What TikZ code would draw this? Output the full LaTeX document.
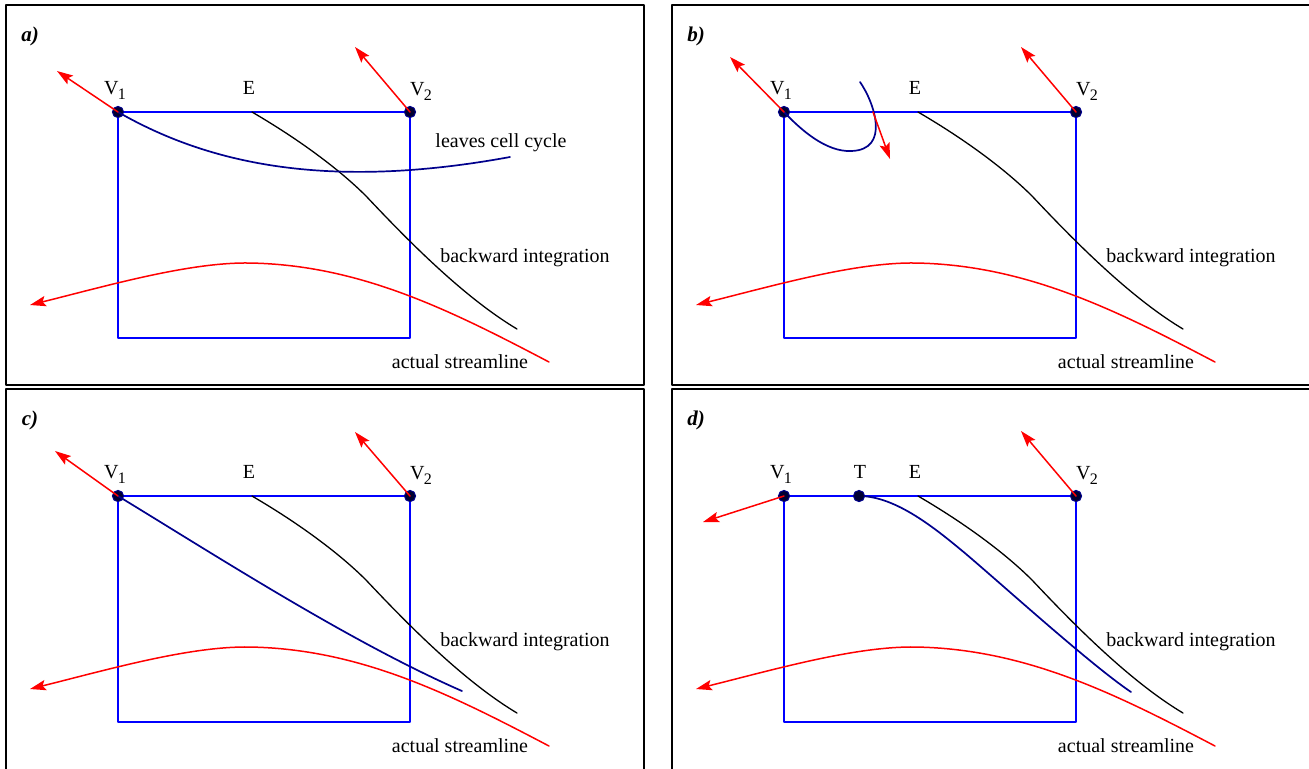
\documentclass[tikz,border=0pt]{standalone}
\usepackage{fontspec}
\setmainfont{Liberation Serif}
\usetikzlibrary{arrows.meta}

\definecolor{cellblue}{RGB}{0,0,255}
\definecolor{navyline}{RGB}{0,0,140}
\definecolor{dotfill}{RGB}{0,0,50}

\newcommand{\vsub}[1]{V\kern-0.3pt\raisebox{-0.55ex}{\fontsize{8}{8}\selectfont #1}}

\begin{document}
\begin{tikzpicture}[x=0.5pt,y=-0.5pt,font=\fontsize{10}{12}\selectfont, line cap=round, line join=round]

% ---------- styles ----------
\tikzset{
  panel/.style={draw, line width=1.1pt, line cap=butt},
  cell/.style={draw=cellblue, line width=1pt},
  vtx/.style={circle, draw=navyline, fill=dotfill, line width=0.5pt, inner sep=0pt, minimum size=5.6pt},
  vel/.style={draw=red, line width=0.75pt, -{Stealth[length=8pt,width=5.2pt,inset=1.5pt]}},
  stream/.style={draw=red, line width=0.75pt, -{Stealth[length=8pt,width=5.2pt,inset=1.5pt]}},
  backint/.style={draw=black, line width=0.65pt},
  trace/.style={draw=navyline, line width=0.85pt},
  plabel/.style={inner sep=0pt, font=\fontsize{10.5}{12}\selectfont\bfseries\itshape},
  tlbl/.style={inner sep=0pt},
}

% ---------- canvas ----------
\useasboundingbox (0,0) rectangle (1309,768);
\clip (0,0) rectangle (1309,768);

% ---------- panel frames ----------
\draw[panel] (6,5) rectangle (644,385);
\draw[panel] (672,5) rectangle (1320,385);
\draw[panel] (6,389) rectangle (644,780);
\draw[panel] (672,389) rectangle (1320,780);

% ---------- what every panel shares ----------
\foreach \p/\dx/\dy in {a/0/0, b/666/0, c/0/384, d/666/384}{
  \begin{scope}[shift={(\dx,\dy)}]
    \node[plabel] (\p-lab) at (30,36) {\p)};
    \draw[cell] (118,112) rectangle (410,338);
    \coordinate (\p-E) at (252,112);
    \coordinate (\p-Bm) at (366,196);
    \coordinate (\p-Bend) at (517,329);
    \coordinate (\p-Sstart) at (549,362);
    \coordinate (\p-Stop) at (250,263);
    \coordinate (\p-Stip) at (30,305);
    % backward integration from E
    \draw[backint] (\p-E) .. controls (300,140) and (340,170) .. (\p-Bm)
                          .. controls (400,232) and (460,295) .. (\p-Bend);
    % actual streamline
    \draw[stream] (\p-Sstart) .. controls (450,310) and (360,265) .. (\p-Stop)
                              .. controls (190,262) and (110,285) .. (\p-Stip);
    \node[tlbl] (\p-lE) at (249,88) {E};
    \node[tlbl] (\p-lV1) at (115,90) {\vsub{1}};
    \node[tlbl] (\p-lV2) at (421,91) {\vsub{2}};
    \node[tlbl] (\p-lbi) at (525,258) {backward integration};
    \node[tlbl] (\p-las) at (460,362) {actual streamline};
  \end{scope}
}

% ---------- a) ----------
\coordinate (a-out) at (510,157);
\node[vtx] (a-V1) at (118,112) {};
\node[vtx] (a-V2) at (410,112) {};
\draw[trace] (a-V1.center) .. controls (210,165) and (330,190) .. (a-out);
\node[tlbl] (a-leave) at (501,143) {leaves cell cycle};
\coordinate (a-V1tip) at (57,71);
\coordinate (a-V2tip) at (355,47);
\draw[vel] (a-V1.center) -- (a-V1tip);
\draw[vel] (a-V2.center) -- (a-V2tip);

% ---------- b) ----------
\begin{scope}[shift={(666,0)}]
  \coordinate (b-in) at (194,82);
  \coordinate (b-low) at (185,151);
  \node[vtx] (b-V1) at (118,112) {};
  \node[vtx] (b-V2) at (410,112) {};
  \draw[trace] (b-in) .. controls (208,102) and (225,150) .. (b-low)
                      .. controls (160,152) and (135,130) .. (b-V1.center);
  \coordinate (b-V1tip) at (64,57);
  \coordinate (b-V2tip) at (355,47);
  \coordinate (b-X) at (207,112);
  \coordinate (b-Xtip) at (224,159);
  \draw[vel] (b-V1.center) -- (b-V1tip);
  \draw[vel] (b-V2.center) -- (b-V2tip);
  \draw[vel] (b-X) -- (b-Xtip);
\end{scope}

% ---------- c) ----------
\begin{scope}[shift={(0,384)}]
  \coordinate (c-out) at (462,307);
  \node[vtx] (c-V1) at (118,112) {};
  \node[vtx] (c-V2) at (410,112) {};
  \draw[trace] (c-V1.center) .. controls (215,171) and (350,258) .. (c-out);
  \coordinate (c-V1tip) at (55,67);
  \coordinate (c-V2tip) at (355,48);
  \draw[vel] (c-V1.center) -- (c-V1tip);
  \draw[vel] (c-V2.center) -- (c-V2tip);
\end{scope}

% ---------- d) ----------
\begin{scope}[shift={(666,384)}]
  \coordinate (d-mid) at (300,170);
  \coordinate (d-out) at (465,308);
  \node[vtx] (d-V1) at (118,112) {};
  \node[vtx] (d-V2) at (410,112) {};
  \draw[trace] (193,112) .. controls (230,112) and (270,145) .. (d-mid)
                         .. controls (340,204) and (425,281) .. (d-out);
  \node[vtx] (d-T) at (193,112) {};
  \node[tlbl] (d-lT) at (194,88) {T};
  \coordinate (d-V1tip) at (37,138);
  \coordinate (d-V2tip) at (355,47);
  \draw[vel] (d-V1.center) -- (d-V1tip);
  \draw[vel] (d-V2.center) -- (d-V2tip);
\end{scope}

\end{tikzpicture}
\end{document}
